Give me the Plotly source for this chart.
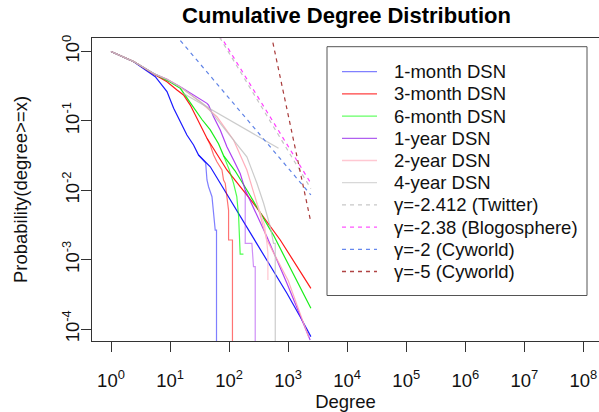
import plotly.graph_objects as go

# ---------------- data ----------------
# 1-month DSN
m1_x = [1, 2.42, 5.62, 8.87, 11.5, 14.9, 19.3, 25.0, 30.4, 48.0, 70.8, 104, 155, 228, 437, 953, 1600, 2427]
m1_y = [1, 0.713, 0.434, 0.264, 0.152, 0.0973, 0.0625, 0.0449, 0.0322, 0.0218, 0.01259, 0.00723, 0.00416, 0.00239, 0.000989, 0.000327, 0.000150, 0.0000776]
m1_cut_x = [30.4, 40.1, 42.2, 44.9, 51.3, 54.6, 58.2, 61.2, 61.2]
m1_cut_y = [0.0322, 0.0247, 0.01406, 0.01125, 0.00807, 0.00466, 0.00267, 0.00267, 0.00001]

# 3-month DSN
m3_x = [1, 2.42, 5.62, 8.87, 13.1, 16.9, 22.0, 28.6, 34.7, 42.2, 91.8, 259, 735, 2427]
m3_y = [1, 0.716, 0.458, 0.367, 0.279, 0.236, 0.169, 0.1089, 0.0782, 0.0561, 0.0196, 0.00649, 0.00192, 0.000386]
m3_cut_x = [42.2, 48.0, 54.6, 62.2, 75.7, 80.5, 86.1, 98.0, 98.0, 114, 114]
m3_cut_y = [0.0561, 0.0449, 0.0322, 0.0258, 0.0196, 0.01406, 0.01259, 0.00513, 0.00192, 0.00192, 0.00001]

# 6-month DSN
m6_x = [1, 2.42, 5.62, 10, 14.9, 25.0, 34.7, 48.0, 66.2, 80.5, 126, 200, 566, 2427]
m6_y = [1, 0.716, 0.468, 0.363, 0.295, 0.158, 0.1047, 0.0741, 0.0468, 0.0316, 0.0191, 0.01009, 0.00224, 0.000199]
m6_cut_x = [80.5, 100, 119, 135, 145, 154, 154, 175]
m6_cut_y = [0.0316, 0.0200, 0.01259, 0.00813, 0.00417, 0.00170, 0.00120, 0.00120]

# 1-year DSN
y1_x = [1, 2.42, 5.62, 8.87, 14.9, 25.0, 32.4, 42.2, 44.9, 54.6, 70.8, 91.8, 119, 154, 187.5, 437, 953, 2360]
y1_y = [1, 0.716, 0.468, 0.398, 0.311, 0.236, 0.209, 0.179, 0.169, 0.1148, 0.0738, 0.0425, 0.0273, 0.0175, 0.01009, 0.00214, 0.000456, 0.0000693]
y1_cut_x = [187.5, 187.5, 243, 259, 277, 277]
y1_cut_y = [0.01009, 0.00172, 0.00172, 0.000793, 0.000793, 0.00001]

# 2-year DSN
y2_x = [1, 2.42, 5.62, 8.87, 14.9, 32.4, 62.2, 119, 200, 296, 437, 1000, 2213]
y2_y = [1, 0.716, 0.468, 0.398, 0.309, 0.189, 0.1148, 0.0530, 0.0196, 0.00649, 0.00191, 0.000501, 0.0000776]
y2_cut_x = [296, 398, 437, 454, 454]
y2_cut_y = [0.00649, 0.00316, 0.00172, 0.00126, 0.000508]

# 4-year DSN
y4_x = [1, 2.42, 5.62, 8.87, 14.9, 42.2, 70.8, 119, 200, 296, 384, 498, 566, 605, 605]
y4_y = [1, 0.716, 0.468, 0.398, 0.309, 0.160, 0.0920, 0.0530, 0.0304, 0.01259, 0.00649, 0.00299, 0.00172, 0.00172, 0.00001]
y4_tail_x = [16.9, 687]
y4_tail_y = [0.249, 0.0403]

# reference power-law lines (end points)
tw_x = [50.1, 2427]
tw_y = [2.52, 0.01054]
bl_x = [50.1, 2427]
bl_y = [2.74, 0.01259]
cy2_x = [10, 2427]
cy2_y = [2.16, 0.00855]
cy5_x = [552, 2427]
cy5_y = [1.34, 0.00345]

legend_labels = ["1-month DSN", "3-month DSN", "6-month DSN", "1-year DSN", "2-year DSN",
                 "4-year DSN", "γ=-2.412 (Twitter)", "γ=-2.38 (Blogosphere)",
                 "γ=-2 (Cyworld)", "γ=-5 (Cyworld)"]

x_tick_vals = [1e0, 1e1, 1e2, 1e3, 1e4, 1e5, 1e6, 1e7, 1e8]
x_tick_text = ["10<sup>%d</sup>" % i for i in range(9)]
y_tick_vals = [1, 1e-1, 1e-2, 1e-3, 1e-4]
y_tick_text = ["10<sup>0</sup>", "10<sup>-1</sup>", "10<sup>-2</sup>", "10<sup>-3</sup>", "10<sup>-4</sup>"]

# ---------------- styling ----------------
FONT = "Liberation Sans, Arial, sans-serif"
AX = "#333333"

solid = [
    (m1_x, m1_y, m1_cut_x, m1_cut_y, "rgba(0,0,255,0.9)", "rgba(0,0,255,0.5)"),
    (m3_x, m3_y, m3_cut_x, m3_cut_y, "rgba(255,0,0,0.9)", "rgba(255,0,0,0.55)"),
    (m6_x, m6_y, m6_cut_x, m6_cut_y, "rgba(0,235,0,0.9)", "rgba(0,255,0,0.7)"),
    (y1_x, y1_y, y1_cut_x, y1_cut_y, "rgba(160,32,240,0.85)", "rgba(160,32,240,0.5)"),
    (y2_x, y2_y, y2_cut_x, y2_cut_y, "rgba(255,165,180,0.9)", "rgba(255,192,203,0.9)"),
]

fig = go.Figure()
for mx, my, cx, cy, cmain, ccut in solid:
    fig.add_trace(go.Scatter(x=mx, y=my, mode="lines", line=dict(color=cmain, width=1.2),
                             showlegend=False, hoverinfo="skip"))
    fig.add_trace(go.Scatter(x=cx, y=cy, mode="lines", line=dict(color=ccut, width=1.2),
                             showlegend=False, hoverinfo="skip"))
fig.add_trace(go.Scatter(x=y4_x, y=y4_y, mode="lines", line=dict(color="rgba(190,190,190,0.8)", width=1.2),
                         showlegend=False, hoverinfo="skip"))
fig.add_trace(go.Scatter(x=y4_tail_x, y=y4_tail_y, mode="lines", line=dict(color="rgba(190,190,190,0.8)", width=1.2),
                         showlegend=False, hoverinfo="skip"))

dashed = [
    (tw_x, tw_y, "#c4c4c4"),
    (bl_x, bl_y, "#ff40ff"),
    (cy2_x, cy2_y, "#5f83e6"),
    (cy5_x, cy5_y, "#a83a3a"),
]
for dx, dy, c in dashed:
    fig.add_trace(go.Scatter(x=dx, y=dy, mode="lines", line=dict(color=c, width=1.2, dash="4px,4px"),
                             showlegend=False, hoverinfo="skip"))

# ---------------- manual legend (R-style box) ----------------
PL, PR, PT, PB = 92, 599, 38, 341
def px(X):
    return (X - PL) / (PR - PL)
def py(Y):
    return (PB - Y) / (PB - PT)

legend_colors = ["#8080ff", "#ff4040", "#66ff66", "#b060f0", "#ffc8d2", "#d8d8d8",
                 "#c8c8c8", "#ff55ff", "#6688ee", "#b04444"]
legend_dash = ["solid"] * 6 + ["4px,4px"] * 4

shapes = [dict(type="rect", xref="paper", yref="paper", x0=px(327), x1=px(587), y0=py(295.5), y1=py(46.7),
               line=dict(color="#555555", width=1), fillcolor="white", layer="above")]
annotations = []
for i, (lab, col, ds) in enumerate(zip(legend_labels, legend_colors, legend_dash)):
    Y = 71.7 + 22.2 * i
    shapes.append(dict(type="line", xref="paper", yref="paper", x0=px(342), x1=px(377), y0=py(Y), y1=py(Y),
                       line=dict(color=col, width=1.3, dash=ds), layer="above"))
    annotations.append(dict(text=lab, xref="paper", yref="paper", x=px(392), y=py(Y), xanchor="left",
                            yanchor="middle", showarrow=False, font=dict(family=FONT, size=18.5, color="#111")))

fig.update_layout(
    width=599, height=412,
    margin=dict(l=PL, r=0, t=PT, b=412 - PB, pad=0),
    paper_bgcolor="white", plot_bgcolor="white",
    showlegend=False,
    title=dict(text="<b>Cumulative Degree Distribution</b>", x=346.5 / 599, xanchor="center",
               y=1 - 15 / 412, yanchor="middle", font=dict(family=FONT, size=22, color="black")),
    shapes=shapes, annotations=annotations,
    xaxis=dict(type="log", range=[-0.322, 8.265], showgrid=False, zeroline=False,
               showline=True, linecolor=AX, linewidth=1, mirror=True,
               ticks="outside", ticklen=10, tickcolor=AX, tickwidth=1,
               tickvals=x_tick_vals, ticktext=x_tick_text, ticklabelstandoff=13,
               tickfont=dict(family=FONT, size=18.5, color="#111"),
               title=dict(text="Degree", font=dict(family=FONT, size=18.5, color="#111"), standoff=4)),
    yaxis=dict(type="log", range=[-4.173, 0.195], showgrid=False, zeroline=False,
               showline=True, linecolor=AX, linewidth=1,
               ticks="outside", ticklen=10, tickcolor=AX, tickwidth=1,
               tickvals=y_tick_vals, ticktext=y_tick_text, tickangle=-90, ticklabelstandoff=-5,
               tickfont=dict(family=FONT, size=18.5, color="#111"),
               title=dict(text="Probability(degree>=x)", font=dict(family=FONT, size=18.5, color="#111"),
                          standoff=26)),
)

fig.write_html("out.html", config={"displayModeBar": False},
               post_script="document.body.style.margin='0';document.body.style.overflow='hidden';")
